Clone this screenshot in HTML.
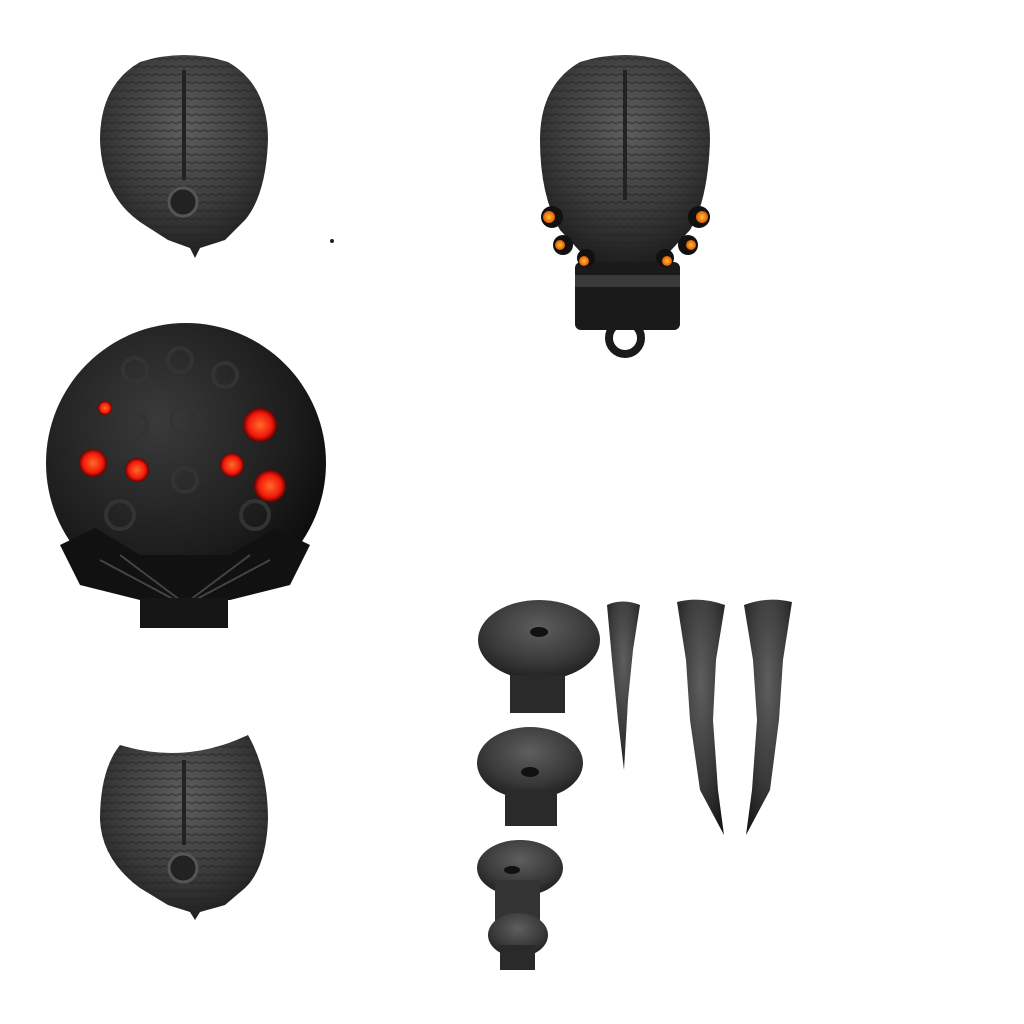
<!DOCTYPE html>
<html><head><meta charset="utf-8"><title>Sprite sheet</title>
<style>html,body{margin:0;padding:0;background:#fff;}svg{display:block;}</style></head>
<body>
<svg width="1024" height="1024" viewBox="0 0 1024 1024">
<defs>
<radialGradient id="metal" cx="50%" cy="35%" r="70%">
<stop offset="0" stop-color="#5e5e5e"/><stop offset="0.6" stop-color="#3a3a3a"/><stop offset="1" stop-color="#1a1a1a"/></radialGradient>
<radialGradient id="sphere" cx="40%" cy="35%" r="70%">
<stop offset="0" stop-color="#3a3a3a"/><stop offset="0.7" stop-color="#1c1c1c"/><stop offset="1" stop-color="#0a0a0a"/></radialGradient>
<radialGradient id="glow" cx="50%" cy="50%" r="50%">
<stop offset="0" stop-color="#ff6a2a"/><stop offset="0.7" stop-color="#f01a0a"/><stop offset="1" stop-color="#600"/></radialGradient>
<radialGradient id="amber" cx="50%" cy="50%" r="50%">
<stop offset="0" stop-color="#ffc040"/><stop offset="1" stop-color="#e05a00"/></radialGradient>
<pattern id="ribs" width="8" height="8" patternUnits="userSpaceOnUse">
<path d="M0 4 Q4 0 8 4" fill="none" stroke="#222" stroke-width="1.2" opacity="0.6"/></pattern>
</defs>

<g>
<path d="M140 62 Q184 48 228 62 Q268 85 268 140 Q266 195 245 220 L225 240 L200 248 L195 258 L190 248 L168 240 L140 222 Q102 195 100 140 Q100 85 140 62Z" fill="url(#metal)"/>
<path d="M140 62 Q184 48 228 62 Q268 85 268 140 Q266 195 245 220 L225 240 L200 248 L190 248 L168 240 L140 222 Q102 195 100 140 Q100 85 140 62Z" fill="url(#ribs)"/>
<path d="M184 70 L184 180" stroke="#222" stroke-width="4"/>
<circle cx="183" cy="202" r="14" fill="#222" stroke="#555" stroke-width="3"/>
</g>
<circle cx="332" cy="241" r="2" fill="#222"/>

<g>
<path d="M580 62 Q625 48 668 62 Q710 85 710 140 Q708 200 690 230 L660 262 L590 262 L560 230 Q540 195 540 140 Q540 85 580 62Z" fill="url(#metal)"/>
<path d="M580 62 Q625 48 668 62 Q710 85 710 140 Q708 200 690 230 L660 262 L590 262 L560 230 Q540 195 540 140 Q540 85 580 62Z" fill="url(#ribs)"/>
<path d="M625 70 L625 200" stroke="#222" stroke-width="4"/>
<rect x="575" y="262" width="105" height="68" rx="6" fill="#1a1a1a"/>
<rect x="575" y="275" width="105" height="12" fill="#3a3a3a"/>
<circle cx="625" cy="338" r="16" fill="none" stroke="#1a1a1a" stroke-width="8"/>
<g fill="#111"><circle cx="552" cy="217" r="11"/><circle cx="699" cy="217" r="11"/><circle cx="563" cy="245" r="10"/><circle cx="688" cy="245" r="10"/><circle cx="586" cy="258" r="9"/><circle cx="665" cy="258" r="9"/></g>
<circle cx="549" cy="217" r="6" fill="url(#amber)"/><circle cx="702" cy="217" r="6" fill="url(#amber)"/>
<circle cx="560" cy="245" r="5" fill="url(#amber)"/><circle cx="691" cy="245" r="5" fill="url(#amber)"/>
<circle cx="584" cy="261" r="5" fill="url(#amber)"/><circle cx="667" cy="261" r="5" fill="url(#amber)"/>
</g>

<g>
<circle cx="186" cy="463" r="140" fill="url(#sphere)"/>
<g fill="none" stroke="#333" stroke-width="4">
<circle cx="135" cy="370" r="12"/><circle cx="180" cy="360" r="12"/><circle cx="225" cy="375" r="12"/>
<circle cx="135" cy="425" r="12"/><circle cx="185" cy="420" r="14"/><circle cx="185" cy="480" r="12"/>
<circle cx="120" cy="515" r="14"/><circle cx="255" cy="515" r="14"/></g>
<path d="M60 545 L95 528 L140 555 L230 555 L275 528 L310 545 L290 585 L230 600 L140 600 L80 585Z" fill="#111"/>
<path d="M100 560 L175 600 M120 555 L180 600 M270 560 L195 600 M250 555 L190 600" stroke="#444" stroke-width="2"/>
<rect x="140" y="598" width="88" height="30" fill="#161616"/>
<circle cx="105" cy="408" r="7" fill="url(#glow)"/>
<circle cx="260" cy="425" r="17" fill="url(#glow)"/>
<circle cx="93" cy="463" r="14" fill="url(#glow)"/>
<circle cx="137" cy="470" r="12" fill="url(#glow)"/>
<circle cx="232" cy="465" r="12" fill="url(#glow)"/>
<circle cx="270" cy="486" r="16" fill="url(#glow)"/>
</g>

<g>
<path d="M120 745 Q185 765 248 735 Q268 770 268 820 Q266 868 245 888 L225 905 L200 912 L195 920 L190 912 L168 905 L140 888 Q102 860 100 820 Q100 770 120 745Z" fill="url(#metal)"/>
<path d="M120 745 Q185 765 248 735 Q268 770 268 820 Q266 868 245 888 L225 905 L200 912 L190 912 L168 905 L140 888 Q102 860 100 820 Q100 770 120 745Z" fill="url(#ribs)"/>
<path d="M184 760 L184 845" stroke="#222" stroke-width="4"/>
<circle cx="183" cy="868" r="14" fill="#222" stroke="#555" stroke-width="3"/>
</g>

<g>
<ellipse cx="539" cy="640" rx="61" ry="40" fill="url(#metal)"/>
<rect x="510" y="675" width="55" height="38" fill="#2a2a2a"/>
<ellipse cx="539" cy="632" rx="9" ry="5" fill="#111"/>
</g>
<g>
<ellipse cx="530" cy="763" rx="53" ry="36" fill="url(#metal)"/>
<rect x="505" y="790" width="52" height="36" fill="#2a2a2a"/>
<ellipse cx="530" cy="772" rx="9" ry="5" fill="#111"/>
</g>
<g>
<ellipse cx="520" cy="868" rx="43" ry="28" fill="url(#metal)"/>
<rect x="495" y="880" width="45" height="60" fill="#333"/>
<ellipse cx="518" cy="935" rx="30" ry="22" fill="url(#metal)"/>
<rect x="500" y="945" width="35" height="25" fill="#2a2a2a"/>
<ellipse cx="512" cy="870" rx="8" ry="4" fill="#111"/>
</g>
<path d="M607 605 Q622 598 640 605 L633 650 L628 700 L624 770 L618 720 L612 660Z" fill="url(#metal)"/>
<path d="M677 602 Q700 596 725 605 L716 660 L713 720 L718 790 L724 835 L700 790 L690 720 L686 660Z" fill="url(#metal)"/>
<path d="M744 605 Q768 596 792 602 L783 660 L779 720 L770 790 L746 835 L752 790 L757 720 L753 660Z" fill="url(#metal)"/>
</svg>
</body></html>
